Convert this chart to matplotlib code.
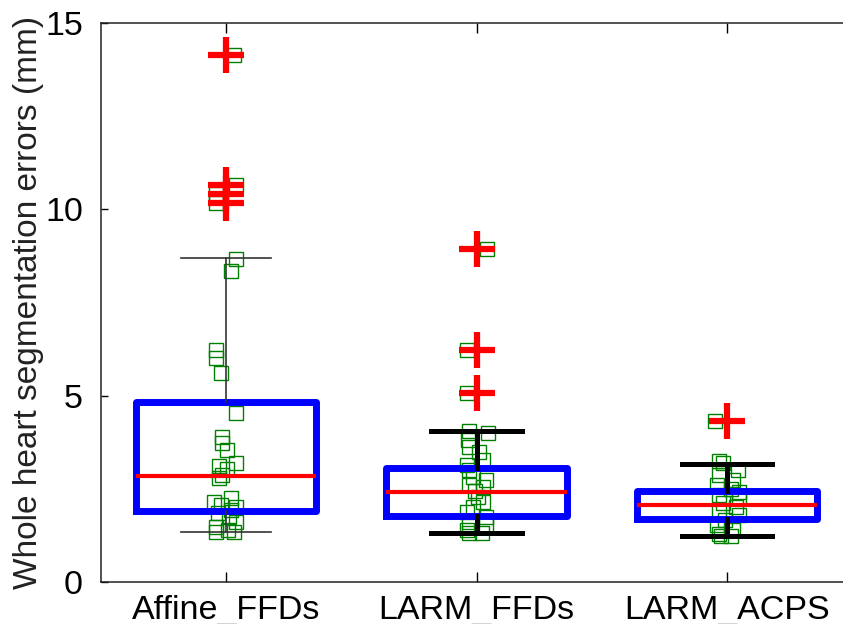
import numpy as np
import matplotlib
matplotlib.use("Agg")
import matplotlib.pyplot as plt

plt.rcParams["font.family"] = ["Liberation Sans", "DejaVu Sans"]

methods = ["Affine_FFDs", "LARM_FFDs", "LARM_ACPS"]

# box statistics (mm)
q1 = [1.90, 1.77, 1.68]
med = [2.84, 2.41, 2.06]
q3 = [4.83, 3.06, 2.45]
whis_lo = [1.34, 1.32, 1.23]
whis_hi = [8.69, 4.06, 3.16]
outliers = [[14.15, 10.64, 10.42, 10.17], [8.93, 6.22, 5.07], [4.32]]

# individual errors, with the small horizontal spread seen in the figure
aff_vals = [14.15, 10.64, 10.42, 10.17, 8.66, 8.34, 6.22, 6.02, 5.6, 4.53,
            3.89, 3.72, 3.54, 3.19, 3.1, 3.02, 2.88, 2.8, 2.25, 2.15,
            2.07, 2.0, 1.93, 1.85, 1.75, 1.6, 1.48, 1.4, 1.34, 1.34]
aff_jit = [8, 10, -10, -10, 10, 5, -10, -10, -5, 10,
           -4, -4, 1, 10, -7, 1, -4, -7, 5, -12,
           -5, 10, 5, -8, 3, 10, -10, 2, -10, 8]
ffd_vals = [8.93, 6.22, 5.07, 4.05, 4.0, 3.8, 3.62, 3.49, 3.27, 3.14,
            3.0, 2.82, 2.73, 2.6, 2.55, 2.45, 2.28, 2.14, 2.0, 1.88,
            1.74, 1.6, 1.53, 1.39, 1.32, 1.32]
ffd_jit = [10, -10, -10, -8, 11, -9, -8, 2, 6, -10,
           -8, -4, 9, -8, 6, -2, 1, 6, -4, -10,
           9, -8, 9, -10, -8, 5]
acps_vals = [4.32, 3.25, 3.2, 3.0, 2.87, 2.73, 2.6, 2.5, 2.41, 2.33,
             2.25, 2.12, 2.02, 1.88, 1.8, 1.66, 1.53, 1.39, 1.3, 1.23, 1.23]
acps_jit = [-12, -8, -4, 11, -8, 6, -10, 4, 12, -8,
            12, -4, 9, -8, 12, -2, -10, 6, -8, -6, 4]

fig = plt.figure(figsize=(8.43, 6.24), dpi=100)
ax = fig.add_axes([0.1198, 0.0673, 0.891, 0.896])

# scatter of all cases first, the boxes go on top
pos = np.arange(1, len(methods) + 1)
for p, vals, jit in zip(pos, [aff_vals, ffd_vals, acps_vals], [aff_jit, ffd_jit, acps_jit]):
    x = p + np.array(jit) / 251.0
    ax.plot(x, vals, "s", ms=9.5, mfc="none", mec="#008000", mew=1.0, zorder=1)

stats = []
for i, m in enumerate(methods):
    stats.append({"label": m, "q1": q1[i], "med": med[i], "q3": q3[i],
                  "whislo": whis_lo[i], "whishi": whis_hi[i], "fliers": outliers[i]})

bp = ax.bxp(stats, positions=pos, widths=0.72, capwidths=0.36,
            boxprops=dict(color="#0000ff", lw=5),
            medianprops=dict(color="#ff0000", lw=3),
            whiskerprops=dict(color="black", lw=3.6),
            capprops=dict(color="black", lw=3.6),
            flierprops=dict(marker="+", ms=26, mec="#ff0000", mew=4.5, ls="none"),
            zorder=3)

# first method is drawn with thin grey whiskers in the original
for art in bp["whiskers"][:2] + bp["caps"][:2]:
    art.set_color("#333333")
    art.set_linewidth(1.2)

ax.set_xlim(0.5, 3.5)
ax.set_ylim(0, 15)
ax.set_yticks([0, 5, 10, 15])
ax.set_xticks(pos)
ax.set_xticklabels(methods)
ax.set_ylabel("Whole heart segmentation errors (mm)", fontsize=24, color="#222222", labelpad=1)
ax.tick_params(axis="x", direction="in", length=7, width=1, top=True, labelsize=24.5, pad=9)
ax.tick_params(axis="y", direction="in", length=5, width=1, labelsize=24.5, pad=13)
for sp in ax.spines.values():
    sp.set_linewidth(1.1)
    sp.set_color("#222222")

fig.savefig("out.png", dpi=100)
